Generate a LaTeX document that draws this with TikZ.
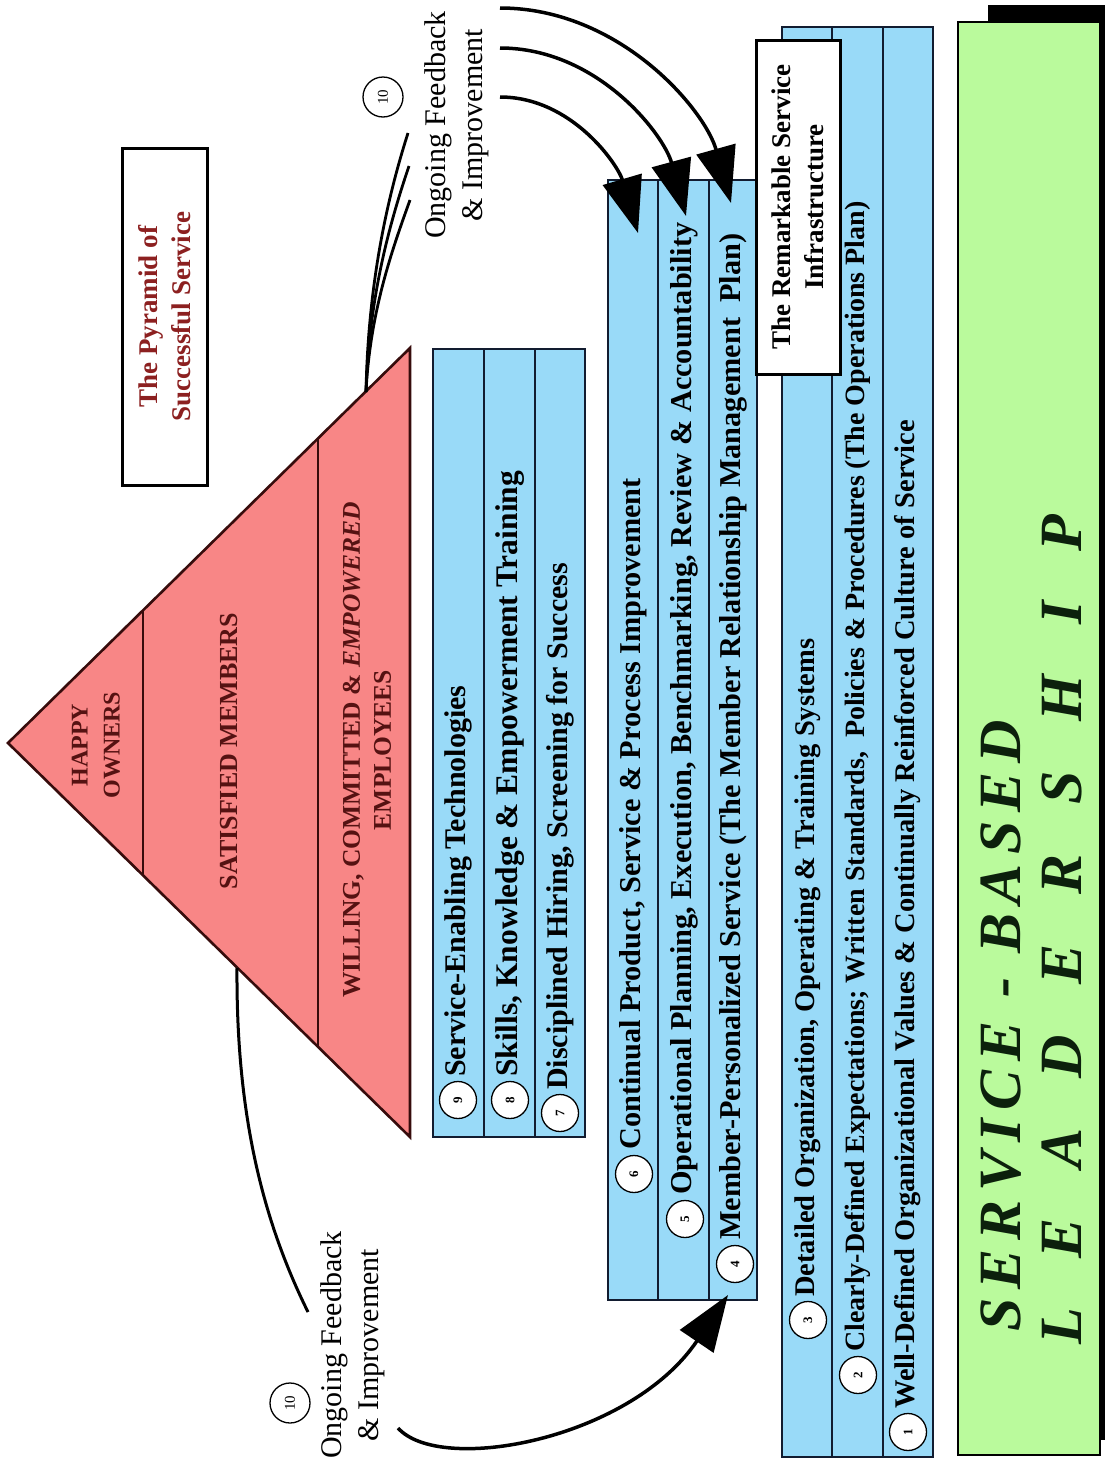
\documentclass[tikz,border=0pt]{standalone}
\usepackage{fontspec}
\setmainfont{Liberation Serif}
\usetikzlibrary{arrows.meta,calc}
\definecolor{pyr}{RGB}{248,134,134}
\definecolor{pyrline}{RGB}{55,12,12}
\definecolor{pyrtext}{RGB}{85,18,18}
\definecolor{titlered}{RGB}{140,32,32}
\definecolor{sky}{RGB}{153,218,248}
\definecolor{navy}{RGB}{18,28,48}
\definecolor{lgreen}{RGB}{186,250,156}
\definecolor{dgreen}{RGB}{12,32,12}
\newcommand{\gA}{\hspace{9pt}}
\newcommand{\gB}{\hspace{50pt}}
\begin{document}
\begin{tikzpicture}[x=1pt,y=-1pt,
  bluebox/.style={fill=sky,draw=navy,line width=2.6pt},
  divline/.style={draw=navy,line width=2.6pt},
  num/.style={circle,draw=black,fill=white,line width=1.3pt,minimum size=37pt,inner sep=0pt,
    font=\fontsize{13}{13}\selectfont\bfseries,rotate=90},
  tennum/.style={circle,draw=black,fill=white,line width=1.3pt,minimum size=40pt,inner sep=0pt,
    font=\fontsize{15}{15}\selectfont,rotate=90},
  item/.style={anchor=west,rotate=90,inner sep=0pt,font=\fontsize{30.3}{32}\selectfont\bfseries},
  itemb/.style={item,font=\fontsize{28.5}{32}\selectfont\bfseries},
  pyrlabel/.style={rotate=90,align=center,text=pyrtext,font=\fontsize{24}{32}\selectfont\bfseries},
  fblabel/.style={rotate=90,align=center,font=\fontsize{30}{37}\selectfont},
  titlebox/.style={draw=black,fill=white,line width=3pt,rotate=90,align=center,inner sep=0pt,
    font=\fontsize{27}{33}\selectfont\bfseries},
  fb/.style={line width=3.5pt,-{Triangle[length=56pt,width=40pt]}},
  fan/.style={line width=2.8pt},
  big/.style={anchor=west,rotate=90,inner sep=0pt,text=dgreen,font=\fontsize{60}{60}\selectfont\bfseries\itshape}
]
\useasboundingbox (0,0) rectangle (1105,1462);

% ---------------- pyramid ----------------
\coordinate (apex) at (8,743);
\coordinate (ptop) at (410,348);
\coordinate (pbot) at (410,1137);
\filldraw[fill=pyr,draw=pyrline,line width=2.6pt,line join=miter] (apex) -- (ptop) -- (pbot) -- cycle;
\draw[draw=pyrline,line width=2.6pt] ($(apex)!0.336!(ptop)$) -- ($(apex)!0.336!(pbot)$);
\draw[draw=pyrline,line width=2.6pt] ($(apex)!0.771!(ptop)$) -- ($(apex)!0.771!(pbot)$);
\node[pyrlabel] (owners) at (96,745) {HAPPY\\OWNERS};
\node[pyrlabel,font=\fontsize{26}{32}\selectfont\bfseries] (members) at (229,751) {SATISFIED MEMBERS};
\node[pyrlabel,font=\fontsize{25.5}{31}\selectfont\bfseries] (employees) at (367,750) {WILLING, COMMITTED \& \textit{EMPOWERED}\\EMPLOYEES};

% ---------------- title ----------------
\node[titlebox,text=titlered,minimum width=337pt,minimum height=85pt] (title) at (164.5,316.5) {The Pyramid of\\Successful Service};

% ---------------- group 7-9 ----------------
\draw[bluebox] (433,349) rectangle (585,1137);
\draw[divline] (484,349) -- (484,1137);
\draw[divline] (535,349) -- (535,1137);
\node[num] (c9) at (458,1100) {9};
\node[num] (c8) at (510,1100) {8};
\node[num] (c7) at (560,1113) {7};
\node[item,font=\fontsize{30}{32}\selectfont\bfseries] (t9) at (458,1077) {Service-Enabling Technologies};
\node[item,font=\fontsize{31.5}{32}\selectfont\bfseries] (t8) at (510,1077) {Skills, Knowledge \& Empowerment Training};
\node[item,font=\fontsize{30}{32}\selectfont\bfseries] (t7) at (560,1090) {Disciplined Hiring, Screening for Success};

% ---------------- group 4-6 ----------------
\draw[bluebox] (608,180) rectangle (757,1300);
\draw[divline] (658,180) -- (658,1300);
\draw[divline] (709,180) -- (709,1300);
\node[num] (c6) at (634,1174) {6};
\node[num] (c5) at (685,1219) {5};
\node[num] (c4) at (735,1264) {4};
\node[item] (t6) at (633,1150) {Continual Product, Service \& Process Improvement};
\node[item] (t5) at (684,1195) {Operational Planning, Execution, Benchmarking, Review \& Accountability};
\node[item] (t4) at (733,1240) {Member-Personalized Service (The Member Relationship Management~ Plan)};

% ---------------- group 1-3 ----------------
\draw[bluebox] (782,27) rectangle (933,1457);
\draw[divline] (832,27) -- (832,1457);
\draw[divline] (883,27) -- (883,1457);
\node[num] (c3) at (808,1320) {3};
\node[num] (c2) at (858,1375) {2};
\node[num] (c1) at (908,1432) {1};
\node[itemb] (t3) at (808,1297) {Detailed Organization, Operating \& Training Systems};
\node[itemb,font=\fontsize{28}{32}\selectfont\bfseries] (t2) at (858,1352) {Clearly-Defined Expectations; Written Standards,~ Policies \& Procedures (The Operations Plan)};
\node[itemb] (t1) at (908,1409) {Well-Defined Organizational Values \& Continually Reinforced Culture of Service};

% ---------------- infrastructure box ----------------
\node[titlebox,minimum width=334pt,minimum height=84pt] (infra) at (798,207) {The Remarkable Service\\Infrastructure};

% ---------------- leadership ----------------
\fill[black] (988,5) rectangle (1105,1440);
\filldraw[fill=lgreen,draw=black,line width=2.6pt] (958,22) rectangle (1100,1455);
\node[big] (lead1) at (1001,1332) {S\gA E\gA R\gA V\gA I\gA C\gA E\gA\ -\ \gA B\gA A\gA S\gA E\gA D};
\node[big] (lead2) at (1062,1345) {L\gB E\gB A\gB D\gB E\gB R\gB S\gB H\gB I\gB P};

% ---------------- feedback labels ----------------
\node[tennum] (ten1) at (383,97) {10};
\node[fblabel] (fbtop) at (457,125) {Ongoing Feedback\\\& Improvement};
\node[tennum] (ten2) at (290,1403) {10};
\node[fblabel] (fbbot) at (353,1345) {Ongoing Feedback\\\& Improvement};

% fan from pyramid top
\coordinate (root) at (366,392);
\coordinate (f1) at (408,133);
\coordinate (f2) at (409,166);
\coordinate (f3) at (410,200);
\draw[fan] (root) .. controls (368,290) and (385,205) .. (f1);
\draw[fan] (root) .. controls (369,300) and (388,228) .. (f2);
\draw[fan] (root) .. controls (370,312) and (392,250) .. (f3);

% top arrows
\coordinate (a1s) at (500,8);
\coordinate (a1e) at (731,203);
\coordinate (a2s) at (500,48);
\coordinate (a2e) at (686,216);
\coordinate (a3s) at (500,97);
\coordinate (a3e) at (638,233);
\draw[fb] (a1s) .. controls (620,8) and (705,110) .. (a1e);
\draw[fb] (a2s) .. controls (598,48) and (664,135) .. (a2e);
\draw[fb] (a3s) .. controls (572,97) and (618,165) .. (a3e);

% left curve and bottom arrow
\coordinate (lc1) at (237,968);
\coordinate (lc2) at (308,1312);
\draw[fan,line width=3pt] (lc1) .. controls (236,1120) and (265,1225) .. (lc2);
\coordinate (b1s) at (398,1428);
\coordinate (b1e) at (728,1295);
\draw[fb] (b1s) .. controls (440,1475) and (630,1440) .. (b1e);
\end{tikzpicture}
\end{document}
